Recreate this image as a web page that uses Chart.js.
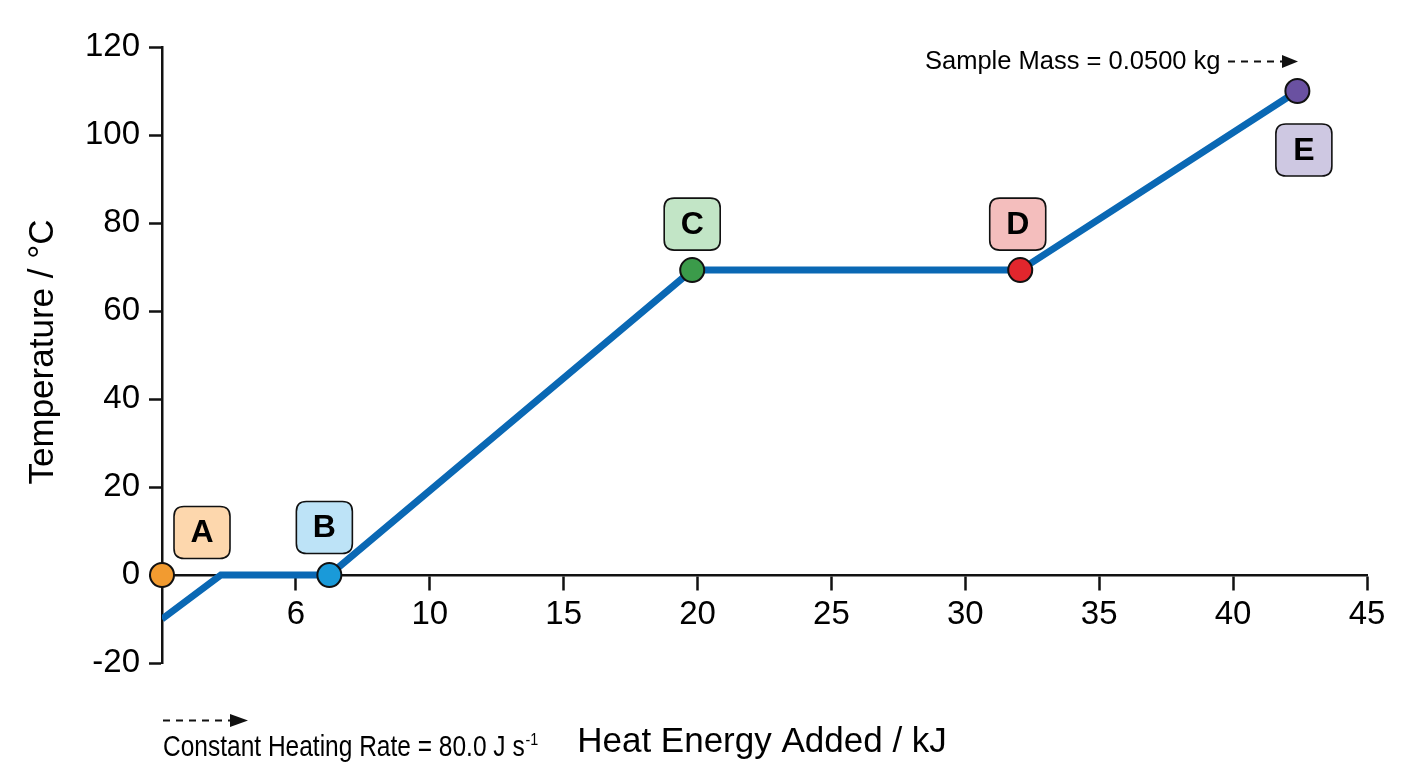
<!DOCTYPE html>
<html>
<head>
<meta charset="utf-8">
<script src="https://cdn.jsdelivr.net/npm/chart.js@4/dist/chart.umd.min.js"></script>
<style>
  html, body { margin: 0; padding: 0; background: #fff; }
  #wrap { width: 1408px; height: 768px; position: relative; }
</style>
</head>
<body>
<div id="wrap"><canvas id="chart-heating"></canvas></div>
<script>
// ------------------------------------------------------------
// data
// ------------------------------------------------------------
const curveEnergy = [0, 2.2, 6.25, 19.8, 32.05, 42.4];   // kJ
const curveTemp   = [-10, 0, 0, 69.3, 69.3, 110];        // °C

const markerLetters = ['A', 'B', 'C', 'D', 'E'];
const markerEnergy  = [0, 6.25, 19.8, 32.05, 42.4];
const markerTemp    = [0, 0, 69.3, 69.3, 110];

const xTickValues = [5, 10, 15, 20, 25, 30, 35, 40, 45];
const xTickLabels = ['6', '10', '15', '20', '25', '30', '35', '40', '45'];
const yTickValues = [-20, 0, 20, 40, 60, 80, 100, 120];

// ------------------------------------------------------------
// styling
// ------------------------------------------------------------
const FONT = '"Liberation Sans", Arial, Helvetica, sans-serif';
const INK = '#111';
const markerColors = ['#F29B30', '#1A9AD9', '#3B9B4A', '#E1262D', '#6A51A1'];
const boxFills     = ['#FDD7AD', '#BDE3F7', '#C2E5C6', '#F4BEBD', '#CEC8E2'];
// label box centre relative to its marker, px
const boxOffsets   = [[40, -42.5], [-5, -47.5], [0, -46], [-2.5, -46], [6.5, 59]];

function roundBox(ctx, x, y, w, h, r) {
  ctx.beginPath();
  ctx.moveTo(x + r, y);
  ctx.lineTo(x + w - r, y);
  ctx.quadraticCurveTo(x + w, y, x + w, y + r);
  ctx.lineTo(x + w, y + h - r);
  ctx.quadraticCurveTo(x + w, y + h, x + w - r, y + h);
  ctx.lineTo(x + r, y + h);
  ctx.quadraticCurveTo(x, y + h, x, y + h - r);
  ctx.lineTo(x, y + r);
  ctx.quadraticCurveTo(x, y, x + r, y);
  ctx.closePath();
}

function dashedArrow(ctx, x1, x2, y, head) {
  ctx.save();
  ctx.strokeStyle = INK; ctx.fillStyle = INK; ctx.lineWidth = 2;
  ctx.setLineDash([7, 6]);
  ctx.beginPath(); ctx.moveTo(x1, y); ctx.lineTo(x2 - head, y); ctx.stroke();
  ctx.setLineDash([]);
  ctx.beginPath();
  ctx.moveTo(x2, y); ctx.lineTo(x2 - head, y - 6.5); ctx.lineTo(x2 - head, y + 6.5);
  ctx.closePath(); ctx.fill();
  ctx.restore();
}

const stageLabels = {
  id: 'stageLabels',
  afterDatasetsDraw(chart) {
    const ctx = chart.ctx;
    const pts = chart.getDatasetMeta(0).data;
    ctx.save();
    pts.forEach((p, i) => {
      const cx = p.x + boxOffsets[i][0], cy = p.y + boxOffsets[i][1];
      roundBox(ctx, cx - 28, cy - 26, 56, 52, 10);
      ctx.fillStyle = boxFills[i]; ctx.fill();
      ctx.lineWidth = 1.6; ctx.strokeStyle = INK; ctx.stroke();
      ctx.fillStyle = '#000';
      ctx.font = 'bold 32px ' + FONT;
      ctx.textAlign = 'center'; ctx.textBaseline = 'middle';
      ctx.fillText(markerLetters[i], cx, cy + 1);
    });
    ctx.restore();
  },
  afterDraw(chart) {
    const ctx = chart.ctx;
    const area = chart.chartArea;
    ctx.save();
    ctx.fillStyle = '#000';

    // axis titles
    ctx.font = '35px ' + FONT;
    ctx.textAlign = 'center'; ctx.textBaseline = 'alphabetic';
    ctx.fillText('Heat Energy Added / kJ', 762, 752);
    ctx.save();
    ctx.translate(53, 352);
    ctx.rotate(-Math.PI / 2);
    ctx.font = '35px ' + FONT;
    ctx.fillText('Temperature / °C', 0, 0);
    ctx.restore();

    // sample mass note
    ctx.font = '25.5px ' + FONT;
    ctx.textAlign = 'left';
    ctx.fillText('Sample Mass = 0.0500 kg', 925, 69);
    dashedArrow(ctx, 1228, 1298, 61.5, 16);

    // heating rate note (condensed)
    ctx.save();
    ctx.translate(163, 756);
    ctx.scale(0.845, 1);
    ctx.font = '29px ' + FONT;
    const base = 'Constant Heating Rate = 80.0 J s';
    ctx.fillText(base, 0, 0);
    const w = ctx.measureText(base).width;
    ctx.font = '17px ' + FONT;
    ctx.fillText('-1', w + 1, -11);
    ctx.restore();
    dashedArrow(ctx, 163, 248, 720.5, 18);

    ctx.restore();
  }
};

const ctx = document.getElementById('chart-heating').getContext('2d');
new Chart(ctx, {
  type: 'scatter',
  data: {
    datasets: [
      {
        label: 'Stages',
        data: markerEnergy.map((x, i) => ({ x, y: markerTemp[i] })),
        showLine: false,
        pointRadius: 12,
        pointBackgroundColor: markerColors,
        pointBorderColor: INK,
        pointBorderWidth: 2,
        clip: false
      },
      {
        label: 'Heating curve',
        data: curveEnergy.map((x, i) => ({ x, y: curveTemp[i] })),
        showLine: true,
        borderColor: '#0A68B4',
        borderWidth: 7,
        pointRadius: 0,
        fill: false,
        tension: 0
      }
    ]
  },
  options: {
    responsive: true,
    maintainAspectRatio: false,
    animation: false,
    // x axis sits at y = 0 and takes no layout space, so the bottom gap is padding
    layout: { padding: { top: 47, right: 41, bottom: 105, left: 0 } },
    plugins: { legend: { display: false }, tooltip: { enabled: false } },
    scales: {
      x: {
        type: 'linear', min: 0, max: 45,
        position: { y: 0 },
        afterBuildTicks: s => { s.ticks = xTickValues.map(v => ({ value: v })); },
        ticks: {
          font: { size: 33, family: FONT }, color: '#000', padding: 6,
          maxRotation: 0, autoSkip: false,
          callback: v => xTickLabels[xTickValues.indexOf(v)]
        },
        grid: { drawOnChartArea: false, drawTicks: true, tickLength: 14, tickWidth: 2.5, tickColor: INK },
        border: { color: INK, width: 2.5 }
      },
      y: {
        type: 'linear', min: -20, max: 120,
        afterBuildTicks: s => { s.ticks = yTickValues.map(v => ({ value: v })); },
        afterFit: s => { s.width = 162; },
        ticks: { font: { size: 33, family: FONT }, color: '#000', padding: 9 },
        grid: { drawOnChartArea: false, drawTicks: true, tickLength: 13, tickWidth: 2.5, tickColor: INK },
        border: { color: INK, width: 2.5 }
      }
    }
  },
  plugins: [stageLabels]
});
</script>
</body>
</html>
